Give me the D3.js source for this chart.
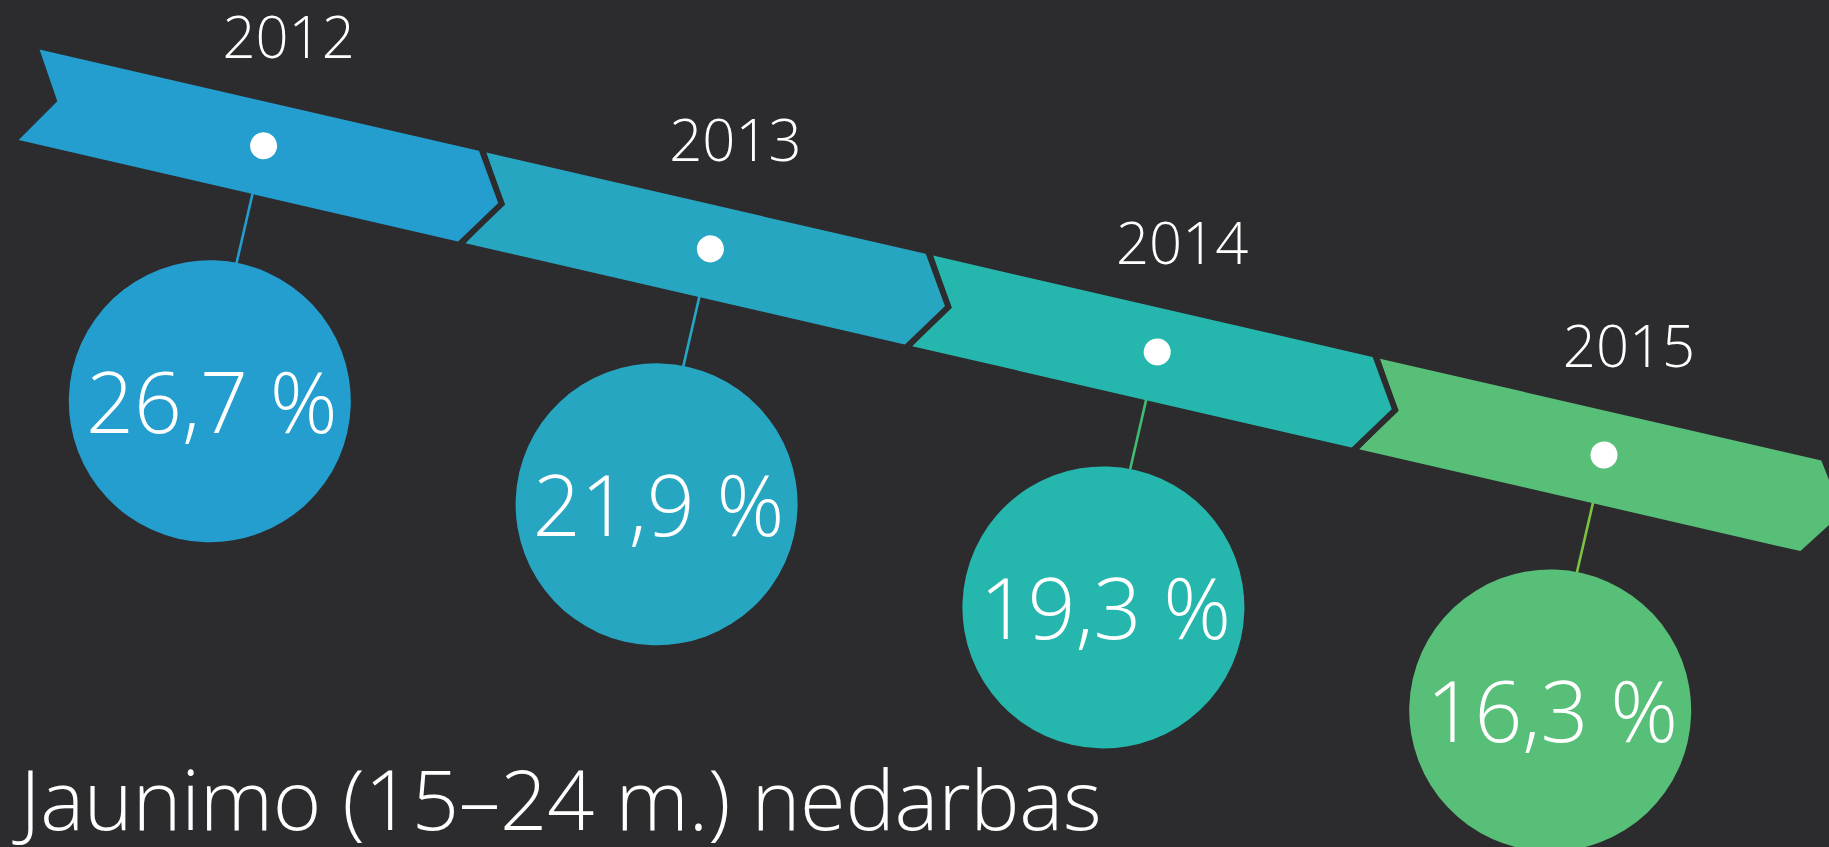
<!DOCTYPE html>
<html>
<head>
<meta charset="utf-8">
<script src="https://cdn.jsdelivr.net/npm/d3@7"></script>
<style>
  html, body { margin: 0; padding: 0; background: #2c2c2e; overflow: hidden; }
  text { font-family: "Open Sans", sans-serif; font-weight: 300; fill: #fff; }
</style>
</head>
<body>
<div id="chart"></div>
<script>
// Data
const years = ["2012", "2013", "2014", "2015"];
const values = [26.7, 21.9, 19.3, 16.3];
const bandColors = ["#239ecf", "#27a6c2", "#25b7ad", "#58bf78"];
const lineColors = ["#239ecf", "#25a7c4", "#40bd72", "#7cc243"];
const title = "Jaunimo (15–24 m.) nedarbas";

const width = 1829;
const height = 847;
const bg = "#2c2c2e";

const svg = d3.select("#chart").append("svg")
    .attr("width", width)
    .attr("height", height)
    .style("display", "block");

svg.append("rect").attr("width", width).attr("height", height).attr("fill", bg);

// dots sit on a tilted timeline
const x = d3.scalePoint().domain(years).range([263.6, 1604]);
const y = d3.scalePoint().domain(years).range([145.8, 455]);
const angle = Math.atan2(y.range()[1] - y.range()[0], x.range()[1] - x.range()[0]) * 180 / Math.PI;

// band shape in local (rotated) coordinates
const uL = -240, uR = 213, vTop = -43.5, vBot = 49.5, vc = 3;
const tipDepth = 32, notchDepth = 29;
const circleU = 5, circleV = 261, circleR = 141;

const fmt = v => d3.format(".1f")(v).replace(".", ",") + " %";

const data = years.map((yr, i) => ({ year: yr, value: values[i], color: bandColors[i], line: lineColors[i], i }));

const groups = svg.selectAll("g.step")
    .data(data)
    .enter().append("g")
    .attr("class", "step")
    .attr("transform", d => `translate(${x(d.year)},${y(d.year)}) rotate(${angle})`);

// connector lines
groups.append("line")
    .attr("x1", 0).attr("y1", vc)
    .attr("x2", 0).attr("y2", circleV - circleR + 6)
    .attr("stroke", d => d.line)
    .attr("stroke-width", 2.6);

// value circles
groups.append("circle")
    .attr("cx", circleU)
    .attr("cy", circleV)
    .attr("r", circleR)
    .attr("fill", d => d.color);

// band segments, drawn last-to-first so each arrow overlaps the next notch
const bands = svg.append("g");
data.slice().reverse().forEach(d => {
    const g = bands.append("g")
        .attr("transform", `translate(${x(d.year)},${y(d.year)}) rotate(${angle})`);
    const pts = [[uL, vTop], [uR, vTop], [uR + tipDepth, vc], [uR, vBot], [uL, vBot], [uL + notchDepth, vc]];
    g.append("path")
        .attr("d", d3.line()(pts) + "Z")
        .attr("fill", d.color);
    if (d.i < years.length - 1) {
        g.append("path")
            .attr("d", d3.line()([[uR - 1, vTop - 4], [uR + tipDepth, vc], [uR - 1, vBot + 4]]))
            .attr("fill", "none")
            .attr("stroke", bg)
            .attr("stroke-width", 6)
            .attr("stroke-linejoin", "miter");
    }
    g.append("circle")
        .attr("cx", 0).attr("cy", 0)
        .attr("r", 13.5)
        .attr("fill", "#fff");
});

// year labels
svg.selectAll("text.year")
    .data(data)
    .enter().append("text")
    .attr("class", "year")
    .attr("x", d => x(d.year) + 25)
    .attr("y", d => y(d.year) - 88)
    .attr("text-anchor", "middle")
    .style("font-size", "58px")
    .text(d => d.year);

// value labels inside circles
const rad = angle * Math.PI / 180;
svg.selectAll("text.value")
    .data(data)
    .enter().append("text")
    .attr("class", "value")
    .attr("x", d => x(d.year) + circleU * Math.cos(rad) - circleV * Math.sin(rad) + 2)
    .attr("y", d => y(d.year) + circleU * Math.sin(rad) + circleV * Math.cos(rad) + 32)
    .attr("text-anchor", "middle")
    .style("font-size", "84px")
    .text(d => fmt(d.value));

// title
svg.append("text")
    .attr("x", 20)
    .attr("y", 830)
    .style("font-size", "83px")
    .style("letter-spacing", "-0.3px")
    .text(title);
</script>
</body>
</html>
